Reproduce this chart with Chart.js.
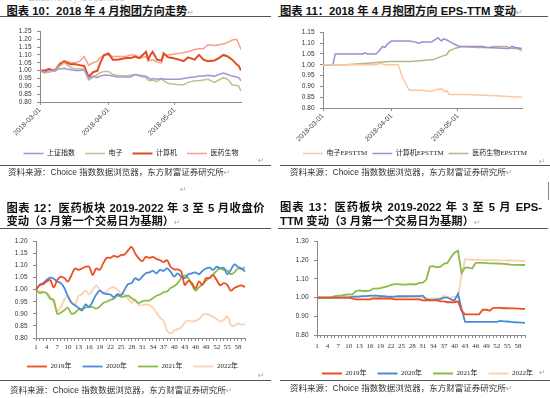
<!DOCTYPE html>
<html>
<head>
<meta charset="utf-8">
<script src="https://cdn.jsdelivr.net/npm/chart.js@4.4.0/dist/chart.umd.min.js"></script>
<style>
  body { margin: 0; width: 550px; height: 398px; overflow: hidden; background: #fff; position: relative;
         font-family: 'Liberation Sans', 'Noto Sans CJK SC', sans-serif; }
  .title { position: absolute; font-weight: bold; font-size: 11.3px; line-height: 13px; color: #111; white-space: nowrap; }
  .just { text-align: justify; text-align-last: justify; }
  .rule { position: absolute; height: 1px; background: #555; }
  .src { position: absolute; font-size: 8.5px; line-height: 10px; color: #333; white-space: nowrap; }
  .ret { color: #aaa; font-family: 'DejaVu Sans'; font-weight: normal; font-size: 8px; }
  .mark { position: absolute; color: #aaa; font-family: 'DejaVu Sans'; font-size: 8px; line-height: 10px; }
  canvas { position: absolute; }
</style>
</head>
<body>
<div class="src" style="left:28px;top:-7px;font-size:10px;color:#c8c8c8;">Eastmoney Securities</div>

<!-- 上排标题 -->
<div class="title" style="left:6.5px;top:5px;">图表 10：2018 年 4 月抱团方向走势<span class="ret">↵</span></div>
<div class="title" style="left:280px;top:5px;">图表 11：2018 年 4 月抱团方向 EPS-TTM 变动<span class="ret">↵</span></div>
<div class="rule" style="left:0;top:16px;width:271px;"></div>
<div class="rule" style="left:278px;top:16px;width:270px;"></div>

<canvas id="c10" width="272" height="145" style="left:0;top:22px;"></canvas>
<canvas id="c11" width="273" height="144" style="left:275px;top:23px;"></canvas>

<div class="mark" style="left:258px;top:156px;">↵</div>
<div class="mark" style="left:539px;top:157px;">↵</div>
<div class="rule" style="left:0;top:165px;width:271px;"></div>
<div class="rule" style="left:280px;top:165px;width:270px;"></div>
<div class="src" style="left:8px;top:167px;">资料来源：Choice 指数数据浏览器，东方财富证券研究所<span class="ret">↵</span></div>
<div class="src" style="left:290px;top:167px;">资料来源：Choice 指数数据浏览器，东方财富证券研究所<span class="ret">↵</span></div>
<div class="mark" style="left:180px;top:185px;">↵</div>
<div style="position:absolute;left:548px;top:182px;width:1px;height:18px;background:#888;"></div>

<!-- 下排标题 -->
<div class="title just" style="left:6.5px;top:201.5px;width:258px;">图表 12：医药板块 2019-2022 年 3 至 5 月收盘价</div>
<div class="title" style="left:6.5px;top:214.5px;">变动（3 月第一个交易日为基期）<span class="ret">↵</span></div>
<div class="title just" style="left:280px;top:200.5px;width:262px;">图表 13：医药板块 2019-2022 年 3 至 5 月 EPS-</div>
<div class="title" style="left:280px;top:214.5px;">TTM 变动（3 月第一个交易日为基期）<span class="ret">↵</span></div>
<div class="rule" style="left:0;top:228px;width:271px;"></div>
<div class="rule" style="left:278px;top:228px;width:270px;"></div>

<canvas id="c12" width="272" height="148" style="left:0;top:232px;"></canvas>
<canvas id="c13" width="273" height="155" style="left:275px;top:232px;"></canvas>

<div class="mark" style="left:258px;top:371px;">↵</div>
<div class="mark" style="left:539px;top:368px;">↵</div>
<div class="rule" style="left:0;top:380px;width:271px;"></div>
<div class="rule" style="left:280px;top:380px;width:270px;"></div>
<div class="src" style="left:10px;top:384.5px;">资料来源：Choice 指数数据浏览器，东方财富证券研究所<span class="ret">↵</span></div>
<div class="src" style="left:290px;top:383px;">资料来源：Choice 指数数据浏览器，东方财富证券研究所<span class="ret">↵</span></div>

<script>
// 图表10：日期轴按 3月1日起的天数
const c10Days = [0, 2, 4, 7, 9, 11, 12, 14, 16, 18, 20, 22, 24, 26, 27, 29, 31, 33, 35, 39, 41, 43, 45, 48, 49, 50, 51, 53, 55, 56, 58, 60, 63, 65, 67, 70, 72, 74, 76, 79, 81, 83, 85, 87, 89, 90, 91];
const c10Sh = [1.00, 0.99, 1.00, 1.005, 1.01, 1.015, 1.01, 1.005, 1.00, 1.00, 1.005, 0.95, 0.965, 0.955, 0.965, 0.97, 0.97, 0.965, 0.96, 0.96, 0.96, 0.975, 0.97, 0.965, 0.955, 0.945, 0.95, 0.945, 0.95, 0.945, 0.945, 0.945, 0.945, 0.95, 0.955, 0.96, 0.965, 0.965, 0.97, 0.965, 0.975, 0.985, 0.975, 0.965, 0.96, 0.955, 0.935];
const c10Dz = [1.00, 0.985, 0.99, 1.00, 1.03, 1.05, 1.04, 1.02, 1.01, 1.01, 1.01, 0.94, 0.955, 0.975, 0.985, 0.995, 0.995, 0.975, 0.97, 0.965, 0.97, 0.975, 0.965, 0.955, 0.94, 0.935, 0.94, 0.93, 0.95, 0.935, 0.92, 0.915, 0.91, 0.91, 0.925, 0.935, 0.935, 0.94, 0.945, 0.925, 0.94, 0.955, 0.945, 0.91, 0.905, 0.90, 0.87];
const c10Jsj = [1.00, 1.00, 1.01, 1.00, 1.04, 1.06, 1.05, 1.04, 1.04, 1.035, 1.03, 0.96, 0.99, 1.00, 1.04, 1.10, 1.11, 1.07, 1.07, 1.08, 1.08, 1.09, 1.08, 1.12, 1.07, 1.10, 1.12, 1.07, 1.065, 1.11, 1.085, 1.08, 1.07, 1.06, 1.085, 1.07, 1.10, 1.07, 1.06, 1.065, 1.08, 1.10, 1.09, 1.07, 1.04, 1.03, 1.00];
const c10Yy = [1.00, 0.99, 1.00, 1.01, 1.05, 1.06, 1.06, 1.05, 1.05, 1.06, 1.09, 1.035, 1.05, 1.06, 1.08, 1.10, 1.10, 1.09, 1.09, 1.09, 1.10, 1.10, 1.08, 1.09, 1.07, 1.065, 1.07, 1.055, 1.05, 1.10, 1.10, 1.105, 1.11, 1.115, 1.12, 1.135, 1.14, 1.14, 1.165, 1.16, 1.165, 1.17, 1.18, 1.195, 1.20, 1.17, 1.135];
const dateTickDays = [0, 31, 61];
const dateTickLabels = ['2018-03-01', '2018-04-01', '2018-05-01'];

// 图表11：EPS-TTM，各序列自己的天数
const c11DzDays = [0, 24, 26, 28, 34, 36, 39, 45, 48, 52, 54, 55, 56, 57, 65, 78, 90];
const c11Dz = [1.00, 1.00, 1.007, 1.00, 1.00, 0.94, 0.882, 0.882, 0.877, 0.887, 0.888, 0.876, 0.88, 0.862, 0.862, 0.857, 0.85];
const c11JsjDays = [0, 4.5, 5.5, 18, 19, 20, 24, 25, 27, 28, 29, 31, 39, 42, 43, 45, 49, 52, 53.5, 54.5, 56, 58.5, 61.5, 72, 74, 84, 85.5, 87, 90];
const c11Jsj = [1.00, 1.00, 1.05, 1.05, 1.055, 1.05, 1.05, 1.06, 1.085, 1.08, 1.095, 1.11, 1.11, 1.105, 1.10, 1.105, 1.105, 1.125, 1.11, 1.12, 1.115, 1.10, 1.085, 1.085, 1.08, 1.075, 1.085, 1.08, 1.075];
const c11YyDays = [0, 10, 17, 23, 30, 40, 45, 50, 54, 56, 57, 60, 63, 70, 75, 77, 83, 85, 88, 90];
const c11Yy = [1.00, 1.00, 1.005, 1.01, 1.015, 1.015, 1.02, 1.025, 1.04, 1.047, 1.065, 1.077, 1.085, 1.08, 1.08, 1.085, 1.085, 1.075, 1.075, 1.065];

// 图表12/13：第1~60个交易日
const dayLabels = Array.from({ length: 60 }, (_, i) => String(i + 1));
const c12Y2019 = [1.00, 1.018, 1.023, 1.034, 1.04, 1.01, 1.04, 1.054, 1.048, 1.034, 1.06, 1.088, 1.082, 1.088, 1.095, 1.095, 1.06, 1.088, 1.082, 1.11, 1.132, 1.132, 1.14, 1.136, 1.143, 1.146, 1.163, 1.177, 1.15, 1.13, 1.118, 1.136, 1.132, 1.136, 1.127, 1.122, 1.115, 1.122, 1.095, 1.084, 1.084, 1.075, 1.02, 1.037, 1.027, 1.004, 1.034, 1.02, 1.048, 1.048, 1.06, 1.04, 1.018, 1.027, 1.02, 0.996, 1.007, 1.014, 1.018, 1.011];
const c12Y2020 = [1.00, 1.02, 1.027, 1.04, 1.05, 1.045, 1.034, 1.027, 1.007, 0.973, 0.946, 0.936, 0.925, 0.914, 0.939, 0.928, 0.952, 0.98, 0.996, 0.986, 0.982, 0.98, 0.969, 0.982, 0.977, 1.00, 1.023, 1.027, 1.048, 1.04, 1.054, 1.068, 1.072, 1.078, 1.068, 1.082, 1.078, 1.088, 1.075, 1.054, 1.068, 1.054, 1.048, 1.064, 1.068, 1.072, 1.064, 1.078, 1.088, 1.091, 1.082, 1.095, 1.088, 1.091, 1.064, 1.082, 1.105, 1.095, 1.088, 1.075];
const c12Y2021 = [1.00, 0.986, 0.99, 0.985, 0.962, 0.958, 0.90, 0.905, 0.915, 0.925, 0.90, 0.905, 0.918, 0.922, 0.926, 0.93, 0.928, 0.922, 0.93, 0.945, 0.95, 0.958, 0.963, 0.975, 0.97, 0.972, 0.975, 0.965, 0.955, 0.945, 0.952, 0.955, 0.955, 0.965, 0.975, 0.98, 0.99, 0.993, 1.007, 1.014, 1.027, 1.048, 1.059, 1.048, 1.02, 0.996, 1.01, 1.023, 1.037, 1.05, 1.064, 1.078, 1.088, 1.082, 1.078, 1.064, 1.072, 1.088, 1.086, 1.093];
const c12Y2022 = [1.00, 0.993, 0.993, 0.986, 0.973, 0.946, 0.912, 0.928, 0.959, 0.973, 0.952, 0.939, 0.973, 0.982, 0.996, 0.98, 1.00, 1.018, 1.00, 0.986, 0.993, 1.007, 1.01, 1.00, 0.986, 0.98, 0.963, 0.946, 0.959, 0.936, 0.936, 0.939, 0.936, 0.925, 0.905, 0.884, 0.871, 0.83, 0.819, 0.83, 0.837, 0.844, 0.864, 0.873, 0.868, 0.871, 0.878, 0.895, 0.90, 0.895, 0.888, 0.878, 0.868, 0.875, 0.89, 0.855, 0.85, 0.86, 0.855, 0.858];

const c13Y2019 = [1.00, 1.00, 1.00, 1.00, 1.00, 1.00, 1.00, 1.00, 1.00, 1.00, 0.995, 0.99, 0.99, 0.99, 0.99, 0.99, 0.995, 0.995, 0.995, 0.995, 0.995, 0.995, 0.99, 0.99, 0.99, 0.99, 0.99, 0.99, 0.99, 0.99, 0.985, 0.985, 0.985, 0.985, 0.985, 0.98, 0.98, 0.975, 0.975, 0.975, 0.98, 0.93, 0.91, 0.91, 0.91, 0.91, 0.91, 0.935, 0.935, 0.93, 0.945, 0.945, 0.945, 0.943, 0.943, 0.942, 0.942, 0.941, 0.94, 0.94];
const c13Y2020 = [1.00, 1.00, 1.00, 1.00, 1.00, 1.00, 1.00, 1.00, 1.00, 1.00, 1.005, 1.005, 1.005, 1.008, 1.008, 1.01, 1.01, 1.01, 1.008, 1.008, 1.005, 1.005, 1.005, 1.007, 1.007, 1.007, 1.008, 1.008, 1.008, 1.008, 1.01, 0.99, 0.988, 0.988, 0.99, 0.992, 1.00, 1.00, 0.99, 0.985, 1.02, 0.94, 0.87, 0.87, 0.87, 0.87, 0.87, 0.87, 0.87, 0.87, 0.87, 0.87, 0.875, 0.873, 0.872, 0.87, 0.868, 0.867, 0.866, 0.865];
const c13Y2021 = [1.00, 1.00, 1.00, 1.00, 1.00, 1.008, 1.01, 1.012, 1.015, 1.017, 1.017, 1.035, 1.038, 1.035, 1.035, 1.037, 1.048, 1.048, 1.05, 1.056, 1.06, 1.068, 1.072, 1.072, 1.069, 1.069, 1.071, 1.072, 1.07, 1.078, 1.08, 1.095, 1.165, 1.168, 1.162, 1.165, 1.18, 1.185, 1.215, 1.24, 1.25, 1.13, 1.16, 1.16, 1.155, 1.185, 1.185, 1.185, 1.184, 1.183, 1.183, 1.182, 1.181, 1.18, 1.178, 1.176, 1.175, 1.175, 1.174, 1.174];
const c13Y2022 = [1.00, 1.00, 1.00, 1.00, 1.00, 1.00, 1.002, 1.003, 1.005, 1.005, 1.005, 1.005, 1.006, 1.006, 1.006, 1.005, 1.005, 1.005, 1.004, 1.004, 1.003, 1.003, 1.003, 1.002, 1.002, 1.002, 1.001, 1.001, 1.00, 1.00, 0.998, 0.996, 0.995, 0.995, 0.996, 0.998, 1.01, 1.003, 1.00, 1.005, 1.00, 1.12, 1.205, 1.203, 1.202, 1.201, 1.20, 1.20, 1.20, 1.20, 1.20, 1.20, 1.199, 1.199, 1.198, 1.198, 1.197, 1.197, 1.196, 1.195];

const AXIS_GRAY = '#8a8a8a';
const sansTick = { family: 'Liberation Sans', size: 6.5 };
const serifFont = { family: "'Liberation Serif', 'Noto Sans CJK SC'", size: 7 };

// 把图例整体左右挪一点，对齐原图
const legendShift = {
  id: 'legendShift',
  afterLayout(chart, args, opts) {
    const dx = opts.dx || 0;
    chart.legend.left += dx;
    chart.legend.right += dx;
  }
};

function pairs(days, vals) {
  return days.map((d, i) => ({ x: d, y: vals[i] }));
}

function yAxis(min, max, step, width) {
  return {
    min: min, max: max,
    ticks: { stepSize: step, autoSkip: false, font: sansTick, color: '#333', padding: 5.5,
             callback: v => v.toFixed(2) },
    grid: { drawOnChartArea: false, tickLength: 3, color: AXIS_GRAY },
    border: { color: AXIS_GRAY },
    afterFit: s => { s.width = width; }
  };
}

function dateAxis(maxDay, height) {
  return {
    type: 'linear', min: 0, max: maxDay,
    afterBuildTicks: s => { s.ticks = dateTickDays.map(v => ({ value: v })); },
    ticks: { font: { family: 'Liberation Sans', size: 7 }, color: '#444', minRotation: 45, maxRotation: 45,
             padding: 1, callback: (v, i) => dateTickLabels[i] },
    grid: { drawOnChartArea: false, tickLength: 3, color: AXIS_GRAY },
    border: { color: AXIS_GRAY },
    afterFit: s => { s.height = height; }
  };
}

function dayAxis(height, pad) {
  return {
    ticks: { autoSkip: false, minRotation: 0, maxRotation: 0, font: serifFont, color: '#333', padding: pad,
             callback: (v, i) => (i % 3 === 0 ? dayLabels[i] : '') },
    grid: { drawOnChartArea: false, tickLength: 3, color: AXIS_GRAY },
    border: { color: AXIS_GRAY },
    afterFit: s => { s.height = height; }
  };
}

function lineChart(id, cfg) {
  return new Chart(document.getElementById(id), {
    type: 'line',
    data: { labels: cfg.labels, datasets: cfg.datasets },
    options: {
      responsive: false,
      animation: false,
      layout: { padding: { top: cfg.padTop, right: cfg.padRight, left: 0, bottom: 0 } },
      elements: { point: { radius: 0 }, line: { tension: cfg.tension || 0 } },
      scales: { x: cfg.x, y: cfg.y },
      plugins: {
        legend: {
          position: 'bottom',
          labels: { usePointStyle: true, pointStyle: 'line', pointStyleWidth: 20, boxHeight: 7,
                    padding: cfg.legendPad, color: '#222', font: serifFont }
        },
        legendShift: { dx: cfg.legendDx },
        tooltip: { enabled: false }
      }
    },
    plugins: [legendShift]
  });
}

lineChart('c10', {
  padTop: 8, padRight: 31, legendPad: 10, legendDx: 10.5,
  x: dateAxis(91, 38),
  y: yAxis(0.8, 1.25, 0.05, 40),
  datasets: [
    { label: '上证指数', data: pairs(c10Days, c10Sh), borderColor: '#a395d3', borderWidth: 1.5 },
    { label: '电子', data: pairs(c10Days, c10Dz), borderColor: '#c8bd8f', borderWidth: 1.5 },
    { label: '计算机', data: pairs(c10Days, c10Jsj), borderColor: '#e34a1e', borderWidth: 2 },
    { label: '医药生物', data: pairs(c10Days, c10Yy), borderColor: '#f9a089', borderWidth: 1.5 }
  ]
});

lineChart('c11', {
  padTop: 8, padRight: 26, legendPad: 5, legendDx: 16.5,
  x: dateAxis(90, 37),
  y: yAxis(0.8, 1.15, 0.05, 48),
  datasets: [
    { label: '电子EPSTTM', data: pairs(c11DzDays, c11Dz), borderColor: '#fcc69e', borderWidth: 1.5 },
    { label: '计算机EPSTTM', data: pairs(c11JsjDays, c11Jsj), borderColor: '#a18ad2', borderWidth: 1.5 },
    { label: '医药生物EPSTTM', data: pairs(c11YyDays, c11Yy), borderColor: '#bdb283', borderWidth: 1.5 }
  ]
});

lineChart('c12', {
  labels: dayLabels, padTop: 9, padRight: 27, legendPad: 11, legendDx: 10, tension: 0.35,
  x: dayAxis(14, 2),
  y: yAxis(0.8, 1.2, 0.05, 36),
  datasets: [
    { label: '2019年', data: c12Y2019, borderColor: '#e8501f', borderWidth: 1.8 },
    { label: '2020年', data: c12Y2020, borderColor: '#4a8ad8', borderWidth: 1.8 },
    { label: '2021年', data: c12Y2021, borderColor: '#8cbd4a', borderWidth: 1.8 },
    { label: '2022年', data: c12Y2022, borderColor: '#fcd0b0', borderWidth: 1.8 }
  ]
});

lineChart('c13', {
  labels: dayLabels, padTop: 9, padRight: 23, legendPad: 11, legendDx: 27.5,
  x: dayAxis(24, 3.5),
  y: yAxis(0.8, 1.3, 0.1, 42),
  datasets: [
    { label: '2019年', data: c13Y2019, borderColor: '#e8501f', borderWidth: 1.8 },
    { label: '2020年', data: c13Y2020, borderColor: '#4a8ad8', borderWidth: 1.8 },
    { label: '2021年', data: c13Y2021, borderColor: '#8cbd4a', borderWidth: 1.8 },
    { label: '2022年', data: c13Y2022, borderColor: '#fcd0b0', borderWidth: 1.8 }
  ]
});
</script>
</body>
</html>
